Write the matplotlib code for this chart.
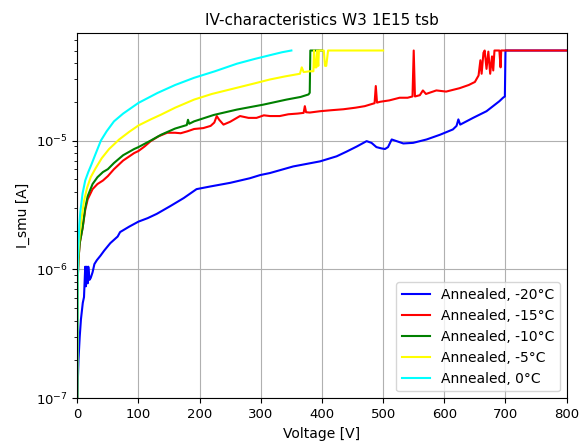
#!/usr/bin/env python3
"""
IV characteristics of sample W3 (1E15, tsb) after annealing,
measured at five temperatures. Current limited by compliance at 50 uA.
"""

import matplotlib
matplotlib.use('Agg')
import matplotlib.pyplot as plt

# ============================================================
# MEASUREMENT DATA (voltage in V, current in A)
# ============================================================

V_M20 = [0, 2, 4, 6, 9, 11, 13, 14, 15.5, 17, 18, 20, 22, 25, 28, 32, 38, 44, 54, 66,
         70, 85, 100, 115, 130, 152, 174, 195, 217, 250, 282, 299, 315, 353, 397, 424,
         440, 457, 473, 481, 489, 497, 503, 508, 514, 522, 533, 549, 571, 593, 614,
         620, 623, 626, 647, 669, 690, 696, 699, 700, 800]
I_M20 = [1.0e-7, 2.0e-7, 3.0e-7, 4.1e-7, 5.5e-7, 6.1e-7, 1.05e-6, 7.4e-7, 1.05e-6, 7.8e-7,
         1.05e-6, 8.3e-7, 8.6e-7, 9.5e-7, 1.1e-6, 1.18e-6, 1.28e-6, 1.4e-6, 1.6e-6, 1.8e-6,
         1.95e-6, 2.15e-6, 2.35e-6, 2.5e-6, 2.7e-6, 3.1e-6, 3.58e-6, 4.2e-6, 4.4e-6, 4.7e-6,
         5.1e-6, 5.4e-6, 5.6e-6, 6.3e-6, 6.9e-6, 7.55e-6, 8.2e-6, 9.0e-6, 9.9e-6, 9.6e-6,
         8.9e-6, 8.7e-6, 8.6e-6, 8.9e-6, 1.02e-5, 9.9e-6, 9.5e-6, 9.6e-6, 1.02e-5, 1.11e-5,
         1.22e-5, 1.3e-5, 1.46e-5, 1.33e-5, 1.5e-5, 1.69e-5, 2.02e-5, 2.15e-5, 2.2e-5,
         5.0e-5, 5.0e-5]

V_M15 = [0, 0.5, 1, 2, 4, 8.7, 13, 17, 25, 33, 42, 50, 60, 75, 93, 100, 110, 120, 133,
         147, 160, 169, 180, 191, 206, 218, 224, 228, 232, 239, 250, 266, 280, 293, 305,
         315, 331, 345, 360, 370, 372, 374, 380, 397, 415, 435, 455, 470, 478, 486, 488,
         490, 495, 510, 527, 540, 548, 550, 552, 560, 565, 570, 587, 603, 625, 640, 650,
         656, 659, 661, 664, 666, 669, 672, 675, 678, 680, 682, 686, 690, 692, 693, 700, 800]
I_M15 = [1.0e-7, 6.0e-7, 9.0e-7, 1.2e-6, 1.6e-6, 2.1e-6, 2.9e-6, 3.5e-6, 4.2e-6, 4.6e-6,
         4.9e-6, 5.3e-6, 6.0e-6, 7.0e-6, 8.0e-6, 8.3e-6, 9.0e-6, 9.9e-6, 1.08e-5, 1.15e-5,
         1.15e-5, 1.14e-5, 1.18e-5, 1.23e-5, 1.25e-5, 1.3e-5, 1.38e-5, 1.55e-5, 1.45e-5,
         1.33e-5, 1.4e-5, 1.55e-5, 1.5e-5, 1.5e-5, 1.57e-5, 1.55e-5, 1.55e-5, 1.6e-5,
         1.62e-5, 1.64e-5, 1.85e-5, 1.66e-5, 1.65e-5, 1.69e-5, 1.72e-5, 1.75e-5, 1.8e-5,
         1.85e-5, 1.9e-5, 1.95e-5, 2.65e-5, 1.97e-5, 2.0e-5, 2.05e-5, 2.15e-5, 2.15e-5,
         2.2e-5, 5.0e-5, 2.2e-5, 2.25e-5, 2.45e-5, 2.3e-5, 2.45e-5, 2.4e-5, 2.55e-5, 2.7e-5,
         2.85e-5, 3.2e-5, 4.2e-5, 3.3e-5, 4.8e-5, 5.0e-5, 3.6e-5, 4.9e-5, 3.3e-5, 4.5e-5,
         3.5e-5, 5.0e-5, 5.0e-5, 5.0e-5, 3.7e-5, 5.0e-5, 5.0e-5, 5.0e-5]

V_M10 = [0, 0.5, 1, 2, 4, 8.7, 13, 17, 25, 33, 42, 50, 60, 75, 93, 100, 120, 137, 160,
         179, 181, 183, 191, 223, 261, 304, 342, 365, 378, 380, 381, 400]
I_M10 = [1.0e-7, 6.0e-7, 9.0e-7, 1.2e-6, 1.6e-6, 2.1e-6, 3.0e-6, 3.7e-6, 4.6e-6, 5.2e-6,
         5.7e-6, 6.0e-6, 6.7e-6, 7.7e-6, 8.6e-6, 8.9e-6, 1.0e-5, 1.11e-5, 1.24e-5, 1.32e-5,
         1.45e-5, 1.35e-5, 1.41e-5, 1.58e-5, 1.74e-5, 1.9e-5, 2.08e-5, 2.18e-5, 2.28e-5,
         2.35e-5, 5.0e-5, 5.0e-5]

V_M5 = [0, 0.5, 1, 2, 4, 7, 11, 16, 22, 30, 40, 52, 68.5, 85, 100, 120, 137, 160, 191,
        220, 261, 290, 315, 340, 364, 367, 370, 380, 386, 387, 389, 391, 392, 394, 395,
        397, 403, 405, 407, 410, 500]
I_M5 = [1.0e-7, 7.0e-7, 1.0e-6, 1.4e-6, 1.9e-6, 2.5e-6, 3.4e-6, 4.3e-6, 5.2e-6, 6.1e-6,
        7.3e-6, 8.6e-6, 1.02e-5, 1.17e-5, 1.31e-5, 1.46e-5, 1.59e-5, 1.8e-5, 2.08e-5,
        2.3e-5, 2.57e-5, 2.78e-5, 2.98e-5, 3.15e-5, 3.3e-5, 3.7e-5, 3.4e-5, 3.45e-5,
        3.45e-5, 5.0e-5, 3.7e-5, 3.7e-5, 5.0e-5, 3.8e-5, 5.0e-5, 5.0e-5, 5.0e-5, 3.8e-5,
        3.8e-5, 5.0e-5, 5.0e-5]

V_0 = [0, 0.5, 1, 2, 3.3, 5, 8.7, 13, 18, 23, 30, 38.6, 48, 60, 75, 100, 131, 160, 191,
       225, 261, 290, 315, 335, 350]
I_0 = [1.0e-7, 8.0e-7, 1.2e-6, 1.6e-6, 2.2e-6, 2.8e-6, 3.9e-6, 4.9e-6, 5.7e-6, 6.5e-6,
       7.9e-6, 1.0e-5, 1.18e-5, 1.41e-5, 1.62e-5, 1.96e-5, 2.34e-5, 2.7e-5, 3.07e-5,
       3.45e-5, 3.95e-5, 4.3e-5, 4.6e-5, 4.85e-5, 5.0e-5]

SERIES = [
    (V_M20, I_M20, 'blue', 'Annealed, -20°C'),
    (V_M15, I_M15, 'red', 'Annealed, -15°C'),
    (V_M10, I_M10, 'green', 'Annealed, -10°C'),
    (V_M5, I_M5, 'yellow', 'Annealed, -5°C'),
    (V_0, I_0, 'cyan', 'Annealed, 0°C'),
]

# ============================================================
# PLOT
# ============================================================

fig = plt.figure(figsize=(5.81, 4.41), dpi=100)
ax = fig.add_axes([0.133, 0.0968, 0.8423, 0.8277])

for v, i, color, label in SERIES:
    ax.plot(v, i, color=color, linewidth=1.5, label=label)

ax.set_yscale('log')
ax.set_xlim(0, 800)
ax.set_ylim(1e-7, 6.8e-5)

ax.grid(True, which='major')
ax.tick_params(labelsize=9.5)
ax.set_xlabel('Voltage [V]', fontsize=10)
ax.set_ylabel('I_smu [A]', fontsize=10)
ax.set_title('IV-characteristics W3 1E15 tsb', fontsize=11)
ax.legend(loc='lower right', fontsize=10)

fig.savefig('out.png', dpi=100)
plt.close(fig)
